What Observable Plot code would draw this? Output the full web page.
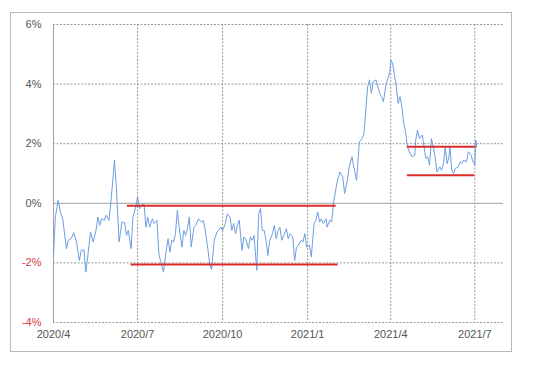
<!DOCTYPE html>
<html><head><meta charset="utf-8">
<script src="https://cdn.jsdelivr.net/npm/d3@7"></script>
<script src="https://cdn.jsdelivr.net/npm/@observablehq/plot@0.6"></script>
<style>
body{margin:0;background:#fff;}
#wrap{position:relative;width:540px;height:365px;}
#border{position:absolute;left:10px;top:12px;width:502px;height:340px;border:1px solid #b8b8b8;box-sizing:border-box;}
#wrap svg{position:absolute;left:0;top:0;}
</style></head>
<body><div id="wrap"><div id="border"></div></div>
<script>
const dates = ["2020-04-01","2020-04-03","2020-04-06","2020-04-09","2020-04-11","2020-04-15","2020-04-17","2020-04-20","2020-04-23","2020-04-26","2020-04-29","2020-05-01","2020-05-04","2020-05-06","2020-05-08","2020-05-11","2020-05-14","2020-05-17","2020-05-19","2020-05-21","2020-05-23","2020-05-26","2020-05-28","2020-05-31","2020-06-02","2020-06-06","2020-06-08","2020-06-11","2020-06-14","2020-06-17","2020-06-19","2020-06-21","2020-06-24","2020-06-26","2020-06-29","2020-07-01","2020-07-03","2020-07-05","2020-07-08","2020-07-10","2020-07-12","2020-07-14","2020-07-17","2020-07-19","2020-07-22","2020-07-24","2020-07-27","2020-07-29","2020-07-31","2020-08-03","2020-08-05","2020-08-07","2020-08-09","2020-08-11","2020-08-13","2020-08-15","2020-08-18","2020-08-20","2020-08-22","2020-08-24","2020-08-26","2020-08-28","2020-08-31","2020-09-02","2020-09-05","2020-09-08","2020-09-10","2020-09-12","2020-09-15","2020-09-17","2020-09-19","2020-09-22","2020-09-25","2020-09-27","2020-09-29","2020-10-01","2020-10-04","2020-10-06","2020-10-09","2020-10-11","2020-10-13","2020-10-15","2020-10-17","2020-10-19","2020-10-22","2020-10-24","2020-10-26","2020-10-29","2020-10-31","2020-11-02","2020-11-04","2020-11-07","2020-11-09","2020-11-11","2020-11-13","2020-11-15","2020-11-17","2020-11-19","2020-11-21","2020-11-24","2020-11-26","2020-11-28","2020-11-30","2020-12-02","2020-12-04","2020-12-07","2020-12-09","2020-12-11","2020-12-13","2020-12-16","2020-12-18","2020-12-20","2020-12-22","2020-12-25","2020-12-27","2020-12-29","2020-12-31","2021-01-03","2021-01-05","2021-01-08","2021-01-10","2021-01-12","2021-01-14","2021-01-16","2021-01-18","2021-01-21","2021-01-22","2021-01-25","2021-01-27","2021-01-29","2021-01-31","2021-02-02","2021-02-05","2021-02-08","2021-02-10","2021-02-13","2021-02-15","2021-02-18","2021-02-20","2021-02-23","2021-02-26","2021-03-01","2021-03-03","2021-03-05","2021-03-07","2021-03-09","2021-03-11","2021-03-13","2021-03-16","2021-03-18","2021-03-20","2021-03-22","2021-03-24","2021-03-27","2021-03-29","2021-03-31","2021-04-01","2021-04-03","2021-04-05","2021-04-07","2021-04-09","2021-04-11","2021-04-13","2021-04-15","2021-04-17","2021-04-19","2021-04-22","2021-04-24","2021-04-27","2021-04-28","2021-04-30","2021-05-02","2021-05-05","2021-05-07","2021-05-09","2021-05-11","2021-05-13","2021-05-15","2021-05-17","2021-05-19","2021-05-21","2021-05-24","2021-05-26","2021-05-28","2021-05-30","2021-06-01","2021-06-03","2021-06-04","2021-06-06","2021-06-08","2021-06-10","2021-06-13","2021-06-15","2021-06-17","2021-06-19","2021-06-22","2021-06-24","2021-06-27","2021-06-29","2021-07-01","2021-07-02","2021-07-03"];
const values = [-1.75,-0.46,0.1,-0.35,-0.52,-1.52,-1.24,-1.19,-0.99,-1.3,-1.92,-1.58,-1.56,-2.31,-1.8,-0.96,-1.3,-0.91,-0.46,-0.74,-0.52,-0.57,-0.4,-0.57,-0.01,1.45,0.55,-1.3,-0.63,-0.66,-1.08,-0.91,-1.52,-0.46,-0.12,0.21,-0.18,-0.07,-0.03,-0.8,-0.46,-0.8,-0.52,-0.68,-0.57,-1.69,-2.09,-2.31,-1.8,-1.19,-1.64,-1.24,-1.3,-1.02,-0.24,-0.8,-1.47,-0.91,-1.08,-0.85,-0.46,-1.47,-0.8,-0.74,-0.52,-0.63,-0.57,-0.85,-1.52,-2.03,-2.23,-1.24,-0.96,-0.91,-0.8,-0.91,-0.68,-0.35,-0.46,-0.91,-0.68,-1.02,-0.74,-0.57,-1.58,-1.13,-1.19,-1.52,-1.13,-1.24,-1.08,-2.25,-0.35,-0.18,-0.91,-0.91,-1.24,-1.75,-1.24,-1.02,-0.74,-1.19,-0.91,-0.8,-1.24,-1.02,-0.85,-1.19,-1.02,-1.13,-1.92,-1.47,-1.41,-1.24,-1.3,-1.02,-1.47,-1.41,-1.8,-0.68,-0.57,-0.29,-0.63,-0.52,-0.68,-0.52,-0.8,-0.57,-0.63,-0.01,0.38,0.72,1.05,0.89,0.33,0.77,1.22,1.56,1.22,0.77,2.06,2.17,2.34,3.13,3.91,4.14,3.69,4.08,4.14,3.91,3.69,3.58,3.41,4.02,4.19,4.42,4.81,4.7,4.3,3.91,3.35,3.58,3.24,2.68,2.4,1.89,1.67,1.56,1.61,2.12,2.46,2.17,2.29,1.89,1.5,1.56,1.28,2.17,1.89,1.56,1.05,1.22,1.11,1.33,1.89,1.33,1.56,1.89,1.11,1.0,1.17,1.22,1.39,1.33,1.45,1.39,1.73,1.61,1.39,1.28,2.12,1.89];

const bandStart = ["2020-06-20","2020-06-24","2021-04-19","2021-04-19"];
const bandEnd = ["2021-02-01","2021-02-03","2021-07-02","2021-07-01"];
const bandLevel = [-0.08,-2.05,1.9,0.94];

const yTicks = [-4,-2,0,2,4,6];
const xTicks = ["2020-04-01","2020-07-01","2020-10-01","2021-01-01","2021-04-01","2021-07-01"];

const parse = d3.utcParse("%Y-%m-%d");
const series = dates.map((d,i)=>({date:parse(d), value:values[i]}));
const bands = bandLevel.map((v,i)=>({x1:parse(bandStart[i]), x2:parse(bandEnd[i]), y:v}));
const xt = xTicks.map(parse);
const fmtX = d => `${d.getUTCFullYear()}/${d.getUTCMonth()+1}`;

const chart = Plot.plot({
  width:540, height:365,
  marginLeft:53, marginRight:37, marginTop:24, marginBottom:43,
  style:{fontFamily:"'Liberation Sans', Arial, sans-serif", fontSize:"11px", background:"transparent"},
  x:{type:"utc", domain:[parse("2020-04-01"), parse("2021-08-01")]},
  y:{domain:[-4,6]},
  marks:[
    Plot.gridY(yTicks.filter(t=>t!==0), {stroke:"#9a9a9a", strokeOpacity:1, strokeDasharray:"2,1.5"}),
    Plot.gridX(xt.slice(1), {stroke:"#9a9a9a", strokeOpacity:1, strokeDasharray:"2,1.5"}),
    Plot.ruleY([0], {stroke:"#a0a0a0", strokeWidth:1}),
    Plot.ruleX([xt[0]], {stroke:"#a0a0a0", strokeWidth:1}),
    Plot.line(series, {x:"date", y:"value", stroke:"#6d9ee2", strokeWidth:1}),
    Plot.ruleY(bands, {y:"y", x1:"x1", x2:"x2", stroke:"#dd2a2a", strokeWidth:2}),
    Plot.axisY(yTicks.filter(t=>t>=0), {tickSize:0, tickPadding:12, tickFormat:d=>d+"%", fill:"#555", label:null}),
    Plot.axisY(yTicks.filter(t=>t<0), {tickSize:0, tickPadding:12, tickFormat:d=>d+"%", fill:"#d84040", label:null}),
    Plot.axisX(xt, {tickSize:0, tickPadding:8, tickFormat:fmtX, fill:"#555", label:null})
  ]
});
document.getElementById("wrap").appendChild(chart);
</script>
</body></html>
